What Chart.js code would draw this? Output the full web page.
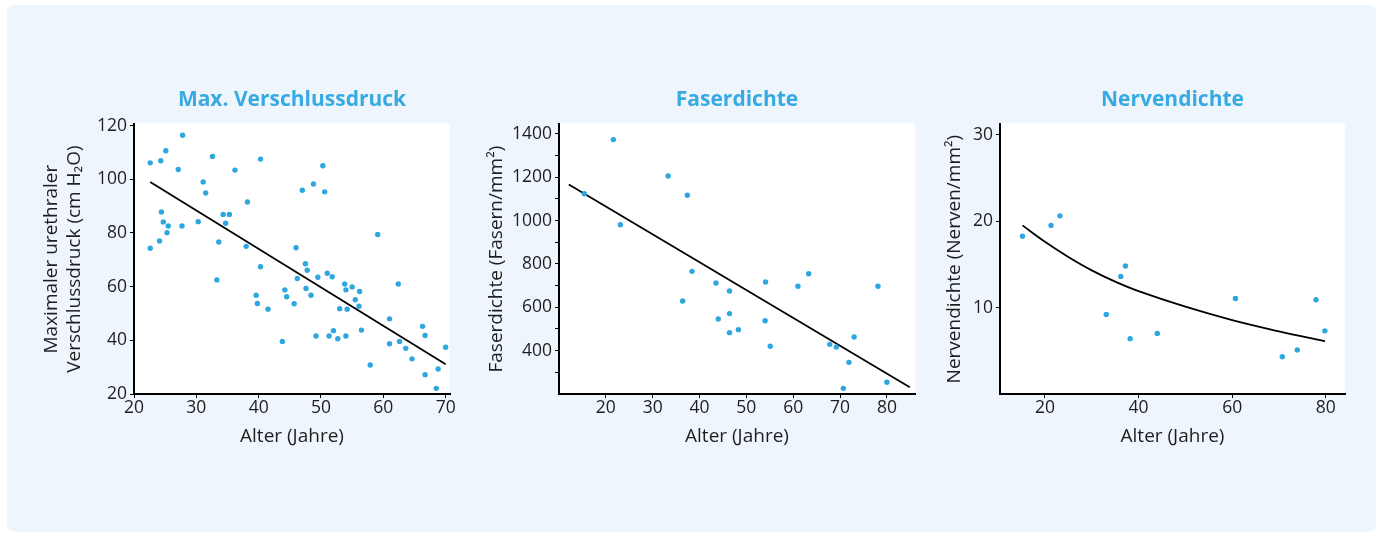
<!DOCTYPE html>
<html lang="de">
<head>
<meta charset="utf-8">
<title>Verschlussdruck, Faserdichte, Nervendichte</title>
<script src="https://cdn.jsdelivr.net/npm/chart.js@4.4.1/dist/chart.umd.min.js"></script>
<style>
  html, body { margin: 0; padding: 0; background: #fff; }
  body { width: 1381px; height: 537px; position: relative; overflow: hidden; }
  .card { position: absolute; left: 7px; top: 5px; width: 1369px; height: 527px; background: #eef5fc; border-radius: 8px; }
  canvas { position: absolute; top: 80px; }
</style>
</head>
<body>
<div class="card"></div>
<canvas id="mvdChart" width="450" height="390" style="left:20px"></canvas>
<canvas id="fdChart" width="465" height="390" style="left:470px"></canvas>
<canvas id="ndChart" width="430" height="390" style="left:935px"></canvas>

<script>
// -----------------------------
// Data: Max. Verschlussdruck
// -----------------------------
const mvdAge = [22.6, 24.3, 25.1, 27.8, 27.1, 32.6, 31.1, 31.5, 36.2, 40.3, 38.2, 24.4, 24.7, 25.5, 25.3,
  27.7, 30.3, 34.3, 35.3, 34.7, 22.6, 24.1, 33.6, 38.0, 50.3, 48.8, 47.0, 50.6, 59.1, 46.0,
  40.3, 33.3, 39.6, 39.8, 41.5, 44.2, 44.5, 43.8, 47.5, 47.8, 46.2, 49.5, 51.0, 51.8, 47.6,
  48.4, 45.7, 53.8, 54.0, 55.0, 56.2, 55.5, 56.1, 53.0, 54.2, 56.5, 49.2, 51.3, 52.0, 52.7,
  54.0, 62.4, 61.0, 61.0, 62.6, 63.6, 64.6, 57.9, 66.3, 66.7, 70.0, 68.8, 66.7, 68.5];
const mvdPressure = [106.1, 106.9, 110.6, 116.4, 103.6, 108.5, 99.0, 94.9, 103.4, 107.5, 91.5, 87.8, 84.1, 82.6, 80.1,
  82.6, 84.2, 86.9, 86.9, 83.6, 74.3, 77.0, 76.6, 75.0, 105.0, 98.2, 95.9, 95.3, 79.4, 74.5,
  67.4, 62.5, 56.8, 53.7, 51.6, 58.8, 56.2, 39.6, 68.5, 66.1, 63.0, 63.5, 65.0, 63.7, 59.3,
  56.8, 53.6, 61.0, 58.8, 59.9, 58.2, 55.1, 52.7, 51.8, 51.6, 43.8, 41.6, 41.6, 43.6, 40.6,
  41.6, 61.0, 48.0, 38.7, 39.6, 37.0, 33.1, 30.8, 45.2, 41.8, 37.4, 29.3, 27.2, 22.1];
const mvdFitAge = [22.6, 70.0];
const mvdFitPressure = [99.0, 31.1];
const mvdXTicks = [20, 30, 40, 50, 60, 70];
const mvdYTicks = [20, 40, 60, 80, 100, 120];

// -----------------------------
// Data: Faserdichte
// -----------------------------
const fdAge = [21.6, 33.3, 37.4, 15.4, 23.1, 38.4, 43.5, 46.4, 36.4, 46.4, 44.0, 46.4, 48.3,
  54.1, 61.0, 63.3, 78.1, 54.0, 55.1, 67.8, 69.2, 73.0, 71.9, 70.7, 80.0];
const fdDensity = [1374, 1206, 1117, 1124, 981, 766, 712, 675, 629, 571, 546, 483, 497,
  717, 697, 755, 697, 538, 420, 429, 417, 463, 346, 226, 254];
const fdFitAge = [12.1, 84.9];
const fdFitDensity = [1167, 231];
const fdXTicks = [20, 30, 40, 50, 60, 70, 80];
const fdYTicks = [300, 400, 500, 600, 700, 800, 900, 1000, 1100, 1200, 1300, 1400];
const fdYLabels = [400, 600, 800, 1000, 1200, 1400];

// -----------------------------
// Data: Nervendichte
// -----------------------------
const ndAge = [15.2, 21.3, 23.2, 36.2, 37.2, 33.1, 38.2, 44.0, 60.7, 70.7, 73.9, 77.9, 79.8];
const ndDensity = [18.25, 19.5, 20.6, 13.6, 14.8, 9.2, 6.4, 7.0, 11.05, 4.3, 5.1, 10.9, 7.3];
const ndFitAge = [15.2, 20, 25, 30, 35, 40, 50, 60, 70, 79.8];
const ndFitDensity = [19.5, 17.6, 15.85, 14.3, 13.0, 11.9, 10.1, 8.55, 7.25, 6.1];
const ndXTicks = [20, 40, 60, 80];
const ndYTicks = [10, 20, 30];

// -----------------------------
// Shared styling
// -----------------------------
const FONT = "'Open Sans', 'Noto Sans', sans-serif";
const BLUE = "#38aae2";
const DOT = "#2ea7e0";
const TEXT = "#1e1e1e";

const toPoints = (xs, ys) => xs.map((x, i) => ({ x, y: ys[i] }));

const plotBackground = {
  id: "plotBackground",
  beforeDraw(chart) {
    const { ctx, chartArea: a } = chart;
    ctx.save();
    ctx.fillStyle = "#fff";
    ctx.fillRect(a.left, a.top - 1, a.right - a.left, a.bottom - a.top + 1);
    ctx.restore();
  }
};

function axisBase(tickValues, labelFn, pad) {
  return {
    type: "linear",
    afterBuildTicks: scale => { scale.ticks = tickValues.map(v => ({ value: v })); },
    ticks: {
      color: TEXT,
      font: { family: FONT, size: 17.5 },
      padding: pad,
      callback: labelFn || (v => v)
    },
    grid: { display: true, drawOnChartArea: false, drawTicks: true, tickLength: 4, color: "#000", lineWidth: 1 },
    border: { display: true, color: "#000", width: 2 }
  };
}

function buildPanel(id, p) {
  const x = axisBase(p.xTicks, null, 0);
  x.min = p.xMin; x.max = p.xMax;
  x.afterFit = scale => { scale.height = 76; };
  x.title = { display: true, text: "Alter (Jahre)", color: TEXT, font: { family: FONT, size: 19, lineHeight: 1.21 }, padding: { top: 0, bottom: 21.5 } };

  const y = axisBase(p.yTicks, p.yLabel, 3);
  y.min = p.yMin; y.max = p.yMax;
  y.afterFit = scale => { scale.width = p.yWidth; };
  y.title = { display: true, text: p.yTitle, color: TEXT, font: { family: FONT, size: 19, lineHeight: 1.21 }, padding: { top: p.yTitlePad, bottom: 0 } };

  return new Chart(document.getElementById(id), {
    type: "scatter",
    data: {
      datasets: [
        {
          data: toPoints(p.age, p.values),
          backgroundColor: DOT,
          borderWidth: 0,
          pointRadius: 2.7,
          pointHoverRadius: 2.7
        },
        {
          data: toPoints(p.fitAge, p.fitValues),
          showLine: true,
          borderColor: "#000",
          borderWidth: 1.8,
          pointRadius: 0,
          tension: p.curve ? 0.4 : 0
        }
      ]
    },
    options: {
      responsive: false,
      animation: false,
      layout: { padding: { left: 0, right: 20, top: 0, bottom: 0 } },
      plugins: {
        legend: { display: false },
        tooltip: { enabled: false },
        title: {
          display: true,
          text: p.title,
          color: BLUE,
          fullSize: false,
          font: { family: FONT, size: 21, weight: "bold", lineHeight: 1.2 },
          padding: { top: 7, bottom: 12 }
        }
      },
      scales: { x, y }
    },
    plugins: [plotBackground]
  });
}

// -----------------------------
// Charts
// -----------------------------
document.addEventListener("DOMContentLoaded", () => {
  buildPanel("mvdChart", {
    title: "Max. Verschlussdruck",
    age: mvdAge, values: mvdPressure, fitAge: mvdFitAge, fitValues: mvdFitPressure,
    xMin: 20, xMax: 70.7, xTicks: mvdXTicks,
    yMin: 20, yMax: 120.5, yTicks: mvdYTicks,
    yTitle: ["Maximaler urethraler", "Verschlussdruck (cm H\u2082O)"],
    yWidth: 114, yTitlePad: 20.5
  });

  buildPanel("fdChart", {
    title: "Faserdichte",
    age: fdAge, values: fdDensity, fitAge: fdFitAge, fitValues: fdFitDensity,
    xMin: 10, xMax: 86, xTicks: fdXTicks,
    yMin: 200, yMax: 1445, yTicks: fdYTicks,
    yLabel: v => (fdYLabels.includes(v) ? v : ""),
    yTitle: "Faserdichte (Fasern/mm\u00b2)",
    yWidth: 89, yTitlePad: 15.5
  });

  buildPanel("ndChart", {
    title: "Nervendichte",
    age: ndAge, values: ndDensity, fitAge: ndFitAge, fitValues: ndFitDensity, curve: true,
    xMin: 10.4, xMax: 84.1, xTicks: ndXTicks,
    yMin: 0, yMax: 31.2, yTicks: ndYTicks,
    yTitle: "Nervendichte (Nerven/mm\u00b2)",
    yWidth: 65, yTitlePad: 8.5
  });
});
</script>
</body>
</html>
